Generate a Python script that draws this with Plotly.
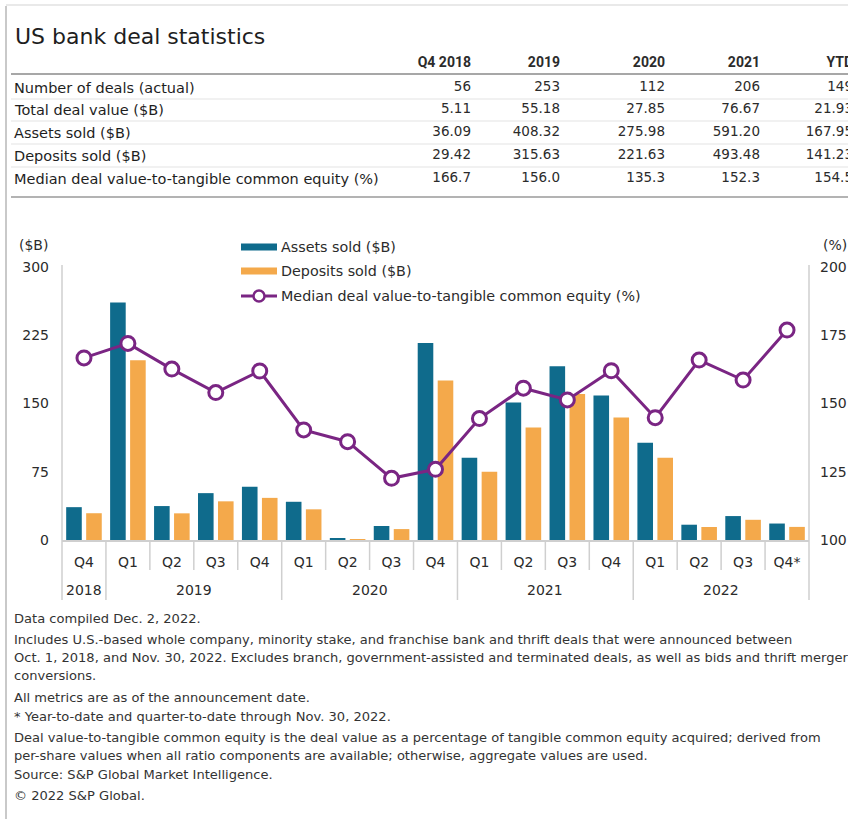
import plotly.graph_objects as go

# ---- data -------------------------------------------------------------
quarters = ["Q4", "Q1", "Q2", "Q3", "Q4", "Q1", "Q2", "Q3", "Q4",
            "Q1", "Q2", "Q3", "Q4", "Q1", "Q2", "Q3", "Q4*"]
years = ["2018", "2019", "2020", "2021", "2022"]
year_spans = [(0, 0), (1, 4), (5, 8), (9, 12), (13, 16)]

assets_sold = [36.09, 261.0, 37.3, 51.5, 58.5, 42.0, 2.0, 15.4, 216.6,
               90.5, 151.0, 191.0, 158.7, 106.8, 16.8, 26.3, 18.1]
deposits_sold = [29.42, 197.5, 29.3, 42.5, 46.3, 33.7, 0.5, 12.0, 175.4,
                 75.0, 123.5, 160.5, 134.5, 90.3, 14.3, 22.2, 14.4]
median_ratio = [166.7, 172.0, 162.6, 154.0, 161.9, 140.3, 136.0, 122.6, 125.9,
                144.5, 155.6, 151.3, 162.0, 144.8, 165.9, 158.6, 176.9]

table_columns = ["Q4 2018", "2019", "2020", "2021", "YTD"]
table_rows = ["Number of deals (actual)", "Total deal value ($B)", "Assets sold ($B)",
              "Deposits sold ($B)", "Median deal value-to-tangible common equity (%)"]
table_values = [
    ["56", "253", "112", "206", "149"],
    ["5.11", "55.18", "27.85", "76.67", "21.93"],
    ["36.09", "408.32", "275.98", "591.20", "167.95"],
    ["29.42", "315.63", "221.63", "493.48", "141.23"],
    ["166.7", "156.0", "135.3", "152.3", "154.5"],
]

left_ticks = [0, 75, 150, 225, 300]
right_ticks = [100, 125, 150, 175, 200]

footnotes = [
    "Data compiled Dec. 2, 2022.",
    "Includes U.S.-based whole company, minority stake, and franchise bank and thrift deals that were announced between",
    "Oct. 1, 2018, and Nov. 30, 2022. Excludes branch, government-assisted and terminated deals, as well as bids and thrift merger",
    "conversions.",
    "All metrics are as of the announcement date.",
    "* Year-to-date and quarter-to-date through Nov. 30, 2022.",
    "Deal value-to-tangible common equity is the deal value as a percentage of tangible common equity acquired; derived from",
    "per-share values when all ratio components are available; otherwise, aggregate values are used.",
    "Source: S&P Global Market Intelligence.",
    "\u00a9 2022 S&P Global.",
]

# ---- style ------------------------------------------------------------
W, H = 848, 819
FONT = "DejaVu Sans"
HEAD_FONT = "Roboto"
TEAL = "#0f6b8c"
ORANGE = "#f4a94b"
PURPLE = "#7a2583"
TEXT = "#2b2b2b"
AXIS_GREY = "#cfcfcf"


def px(x):
    return x / W


def py(y):
    return 1 - y / H


x_idx = list(range(len(quarters)))

fig = go.Figure()
fig.add_trace(go.Bar(x=x_idx, y=assets_sold, name="Assets sold ($B)",
                     marker=dict(color=TEAL, line=dict(width=0))))
fig.add_trace(go.Bar(x=x_idx, y=deposits_sold, name="Deposits sold ($B)",
                     marker=dict(color=ORANGE, line=dict(width=0))))
fig.add_trace(go.Scatter(x=x_idx, y=median_ratio, yaxis="y2", mode="lines+markers",
                         name="Median deal value-to-tangible common equity (%)",
                         line=dict(color=PURPLE, width=3),
                         marker=dict(size=14, color="white",
                                     line=dict(color=PURPLE, width=3))))

plot_left, plot_right = 62, 809
plot_top, plot_bottom = 267, 540

annotations = []
shapes = []

# frame around the graphic
shapes.append(dict(type="line", xref="paper", yref="paper", x0=px(6), x1=px(6),
                   y0=py(6), y1=py(819), line=dict(color="#c9c9c9", width=2)))
shapes.append(dict(type="line", xref="paper", yref="paper", x0=px(6), x1=px(848),
                   y0=py(5), y1=py(5), line=dict(color="#e2e2e2", width=1.5)))

# title
annotations.append(dict(text="US bank deal statistics", x=px(13), y=py(37),
                        xref="paper", yref="paper", xanchor="left", yanchor="middle",
                        showarrow=False, font=dict(family=FONT, size=22, color="#1e1e1e")))

# table: text laid out on a full-page pixel subplot so the last column is clipped
# at the page edge instead of spilling past it
col_right = [471, 560, 665, 760, 853]
header_y = 63
row_y = [88, 110, 133, 156, 179]


def edge_text(texts, xs, ys, pos, size, family, color):
    fig.add_trace(go.Scatter(x=xs, y=ys, text=texts, mode="text", textposition=pos,
                             textfont=dict(family=family, size=size, color=color),
                             xaxis="x3", yaxis="y3", cliponaxis=True,
                             hoverinfo="skip", showlegend=False))


edge_text(["<b>" + c + "</b>" for c in table_columns], col_right,
          [header_y] * len(table_columns), "middle left", 14, HEAD_FONT, TEXT)
for r, lab in enumerate(table_rows):
    annotations.append(dict(text=lab, x=px(12), y=py(row_y[r]),
                            xref="paper", yref="paper", xanchor="left", yanchor="middle",
                            showarrow=False, font=dict(family=FONT, size=14.5, color="#1e1e1e")))
    edge_text(table_values[r], col_right, [row_y[r]] * len(col_right),
              "middle left", 13.5, FONT, TEXT)

shapes.append(dict(type="line", xref="paper", yref="paper", x0=px(11), x1=px(848),
                   y0=py(74), y1=py(74), line=dict(color="#8a8a8a", width=1.5)))
for yy in [99, 121, 144, 167]:
    shapes.append(dict(type="line", xref="paper", yref="paper", x0=px(11), x1=px(848),
                       y0=py(yy), y1=py(yy), line=dict(color="#e3e3e3", width=1)))
shapes.append(dict(type="line", xref="paper", yref="paper", x0=px(11), x1=px(848),
                   y0=py(197), y1=py(197), line=dict(color="#9a9a9a", width=1.5)))

# axis unit labels
annotations.append(dict(text="($B)", x=px(50), y=py(245), xref="paper", yref="paper",
                        xanchor="right", yanchor="middle", showarrow=False,
                        font=dict(family=FONT, size=14, color=TEXT)))
annotations.append(dict(text="(%)", x=px(821), y=py(245), xref="paper", yref="paper",
                        xanchor="left", yanchor="middle", showarrow=False,
                        font=dict(family=FONT, size=14, color=TEXT)))

# vertical axis rules extending through the label band
for xx in [plot_left, plot_right]:
    shapes.append(dict(type="line", xref="paper", yref="paper", x0=px(xx), x1=px(xx),
                       y0=py(265), y1=py(600), line=dict(color=AXIS_GREY, width=1.5)))

# quarter / year separators
year_bounds = {s[0] - 0.5 for s in year_spans[1:]}
for b in range(1, len(quarters)):
    edge = b - 0.5
    bottom = 600 if edge in year_bounds else 570
    shapes.append(dict(type="line", xref="x", yref="paper", x0=edge, x1=edge,
                       y0=py(plot_bottom), y1=py(bottom),
                       line=dict(color=AXIS_GREY, width=1.5)))

# year labels
for yr, (a, b) in zip(years, year_spans):
    annotations.append(dict(text=yr, x=(a + b) / 2, y=py(590), xref="x", yref="paper",
                            xanchor="center", yanchor="middle", showarrow=False,
                            font=dict(family=FONT, size=14, color=TEXT)))

# legend drawn as swatches beside text
leg_x0, leg_x1, leg_tx = 241, 277, 279
leg_y = [247, 271, 296]
shapes.append(dict(type="rect", xref="paper", yref="paper", x0=px(leg_x0), x1=px(leg_x1),
                   y0=py(leg_y[0] - 3.5), y1=py(leg_y[0] + 3.5),
                   fillcolor=TEAL, line=dict(width=0)))
shapes.append(dict(type="rect", xref="paper", yref="paper", x0=px(leg_x0), x1=px(leg_x1),
                   y0=py(leg_y[1] - 3.5), y1=py(leg_y[1] + 3.5),
                   fillcolor=ORANGE, line=dict(width=0)))
shapes.append(dict(type="line", xref="paper", yref="paper", x0=px(leg_x0), x1=px(leg_x1),
                   y0=py(leg_y[2]), y1=py(leg_y[2]), line=dict(color=PURPLE, width=3)))
shapes.append(dict(type="circle", xref="paper", yref="paper",
                   x0=px(259 - 5.5), x1=px(259 + 5.5), y0=py(leg_y[2] - 5.5), y1=py(leg_y[2] + 5.5),
                   fillcolor="white", line=dict(color=PURPLE, width=2.5)))
legend_labels = [fig.data[0].name, fig.data[1].name, fig.data[2].name]
for lab, yy in zip(legend_labels, leg_y):
    annotations.append(dict(text=lab, x=px(leg_tx), y=py(yy), xref="paper", yref="paper",
                            xanchor="left", yanchor="middle", showarrow=False,
                            font=dict(family=FONT, size=14.3, color=TEXT)))

# footnotes (same clipped layer, so the long line is cut at the page edge)
foot_y = [620, 641, 659, 677, 699, 718, 739, 757, 776, 797]
edge_text(footnotes, [14] * len(footnotes), foot_y, "middle right", 13.05, FONT, "#333333")

fig.update_layout(
    width=W, height=H,
    margin=dict(l=0, r=0, t=0, b=0, autoexpand=False),
    paper_bgcolor="white", plot_bgcolor="rgba(0,0,0,0)",
    showlegend=False,
    barmode="group", bargap=0.09, bargroupgap=0.22,
    font=dict(family=FONT, color=TEXT),
    xaxis=dict(domain=[px(plot_left), px(plot_right)], range=[-0.5, len(quarters) - 0.5],
               tickvals=x_idx, ticktext=quarters, ticks="", showgrid=False, zeroline=False,
               showline=True, linecolor=AXIS_GREY, linewidth=1.5, automargin=False,
               ticklabelstandoff=8, tickfont=dict(family=FONT, size=14, color=TEXT)),
    yaxis=dict(domain=[py(plot_bottom), py(plot_top)], range=[0, 300], tickvals=left_ticks,
               showgrid=False, zeroline=False, showline=False, ticks="", automargin=False,
               ticklabelstandoff=12, tickfont=dict(family=FONT, size=14, color=TEXT)),
    yaxis2=dict(overlaying="y", side="right", range=[100, 200], tickvals=right_ticks,
                showgrid=False, zeroline=False, showline=False, ticks="", automargin=False,
                ticklabelstandoff=10, tickfont=dict(family=FONT, size=14, color=TEXT)),
    xaxis3=dict(domain=[0, 1], range=[0, W], anchor="y3", visible=False, fixedrange=True,
                automargin=False),
    yaxis3=dict(domain=[0, 1], range=[H, 0], anchor="x3", visible=False, fixedrange=True,
                automargin=False),
    annotations=annotations,
    shapes=shapes,
)

fig.write_html("out.html")
